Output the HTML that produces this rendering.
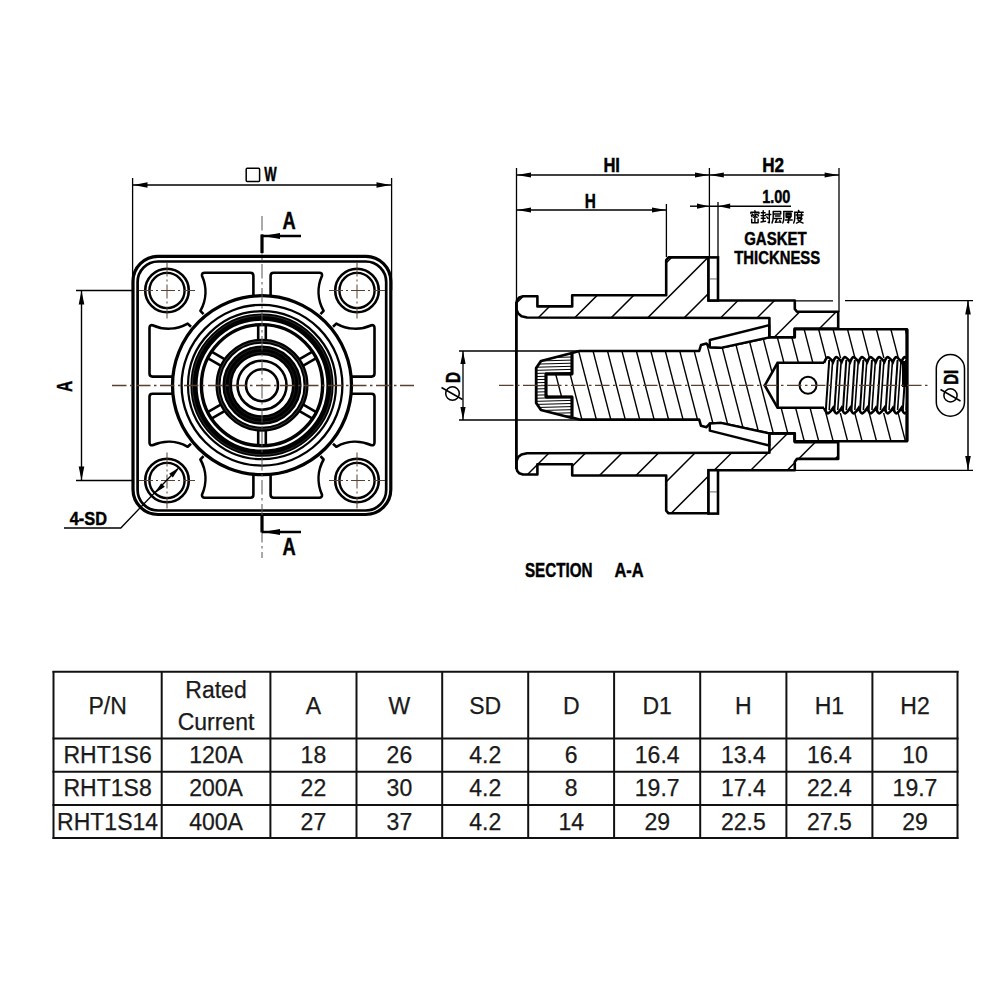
<!DOCTYPE html>
<html><head><meta charset="utf-8"><style>
html,body{margin:0;padding:0;background:#fff;}
svg{display:block;}
</style></head><body>
<svg width="1000" height="1000" viewBox="0 0 1000 1000">
<rect width="1000" height="1000" fill="#fff"/>
<defs><clipPath id="hous"><path d="M516.40,303.00 L517.20,299.80 L519.30,297.40 L523.00,296.20 L537.40,296.20 L537.40,306.40 L572.20,306.40 L572.20,295.20 L666.20,295.20 L666.20,260.00 L668.50,257.40 L708.50,257.40 L708.50,300.50 L794.80,300.50 L794.80,309.00 L797.00,311.80 L838.20,311.80 L838.20,328.60 L794.80,328.60 L794.80,337.30 L769.40,337.30 L769.40,318.00 L527.00,317.50 L521.50,316.20 L518.20,313.60 L516.40,309.50 Z M516.40,467.70 L517.20,470.90 L519.30,473.30 L523.00,474.50 L537.40,474.50 L537.40,464.30 L572.20,464.30 L572.20,475.50 L666.20,475.50 L666.20,510.70 L668.50,513.30 L708.50,513.30 L708.50,470.20 L794.80,470.20 L794.80,461.70 L797.00,458.90 L838.20,458.90 L838.20,442.10 L794.80,442.10 L794.80,433.40 L769.40,433.40 L769.40,452.70 L527.00,453.20 L521.50,454.50 L518.20,457.10 L516.40,461.20 Z"/></clipPath><clipPath id="pinc"><path d="M579.40,351.00 L699.20,351.00 L701.00,345.00 L706.50,343.60 L709.80,347.20 L720.80,347.80 L769.20,337.30 L794.50,337.30 L794.50,329.30 L907.00,329.30 L907.00,441.30 L794.50,441.30 L794.50,433.50 L769.20,433.50 L720.80,423.00 L709.80,423.60 L706.50,427.20 L701.00,425.80 L699.20,419.60 L579.40,419.60 L572.00,417.60 L572.00,397.00 L546.00,397.00 L546.00,374.00 L572.00,374.00 L572.00,353.00 Z"/></clipPath><clipPath id="capc"><path d="M572.00,353.00 L541.00,361.00 L536.20,368.00 L536.20,403.00 L541.00,410.00 L572.00,418.00 L572.00,397.00 L546.00,397.00 L546.00,374.00 L572.00,374.00 Z"/></clipPath><clipPath id="thr"><rect x="820" y="350" width="86" height="70"/></clipPath></defs>
<line x1="132.60" y1="178.00" x2="132.60" y2="300.00" stroke="#000" stroke-width="1.3" />
<line x1="391.60" y1="178.00" x2="391.60" y2="290.00" stroke="#000" stroke-width="1.3" />
<line x1="133.00" y1="185.00" x2="391.00" y2="185.00" stroke="#000" stroke-width="1.5" />
<path d="M133.50,185.00 L147.50,182.20 L147.50,187.80 Z" fill="#000"/>
<path d="M390.50,185.00 L376.50,187.80 L376.50,182.20 Z" fill="#000"/>
<rect x="246.2" y="168.2" width="13.4" height="13.2" rx="1" fill="none" stroke="#000" stroke-width="1.5"/>
<text x="264.20" y="181.20" font-family="Liberation Sans" font-size="19.55" font-weight="bold" fill="#000" stroke="#000" stroke-width="0.45" textLength="12.40" lengthAdjust="spacingAndGlyphs">W</text>
<line x1="76.00" y1="290.50" x2="133.00" y2="290.50" stroke="#000" stroke-width="1.4" />
<line x1="76.00" y1="480.50" x2="133.00" y2="480.50" stroke="#000" stroke-width="1.4" />
<line x1="81.50" y1="290.50" x2="81.50" y2="480.50" stroke="#000" stroke-width="1.4" />
<path d="M81.50,290.50 L84.30,304.50 L78.70,304.50 Z" fill="#000"/>
<path d="M81.50,480.50 L78.70,466.50 L84.30,466.50 Z" fill="#000"/>
<text x="71.90" y="391.90" transform="rotate(-90 71.90 391.90)" font-family="Liberation Sans" font-size="21.79" font-weight="bold" fill="#000" stroke="#000" stroke-width="0.45" textLength="11.10" lengthAdjust="spacingAndGlyphs">A</text>
<rect x="133" y="256.3" width="257.8" height="258.2" rx="25" fill="none" stroke="#000" stroke-width="3.2"/>
<rect x="137.6" y="261.5" width="248.6" height="249" rx="20.5" fill="none" stroke="#000" stroke-width="2.7"/>
<path d="M270.60,296.11  L270.60,275.70  Q270.60,272.70 273.60,272.70  L319.31,272.70  Q322.31,272.70 322.01,275.70  A39.3,39.3 0 0 0 323.59,310.90  L320.49,314.20" fill="none" stroke="#000" stroke-width="2.6" stroke-linejoin="round"/>
<path d="M253.40,296.11  L253.40,275.70  Q253.40,272.70 250.40,272.70  L204.69,272.70  Q201.69,272.70 201.99,275.70  A39.3,39.3 0 0 1 200.41,310.90  L203.51,314.20" fill="none" stroke="#000" stroke-width="2.6" stroke-linejoin="round"/>
<path d="M270.60,474.29  L270.60,494.70  Q270.60,497.70 273.60,497.70  L319.31,497.70  Q322.31,497.70 322.01,494.70  A39.3,39.3 0 0 1 323.59,459.50  L320.49,456.20" fill="none" stroke="#000" stroke-width="2.6" stroke-linejoin="round"/>
<path d="M253.40,474.29  L253.40,494.70  Q253.40,497.70 250.40,497.70  L204.69,497.70  Q201.69,497.70 201.99,494.70  A39.3,39.3 0 0 0 200.41,459.50  L203.51,456.20" fill="none" stroke="#000" stroke-width="2.6" stroke-linejoin="round"/>
<path d="M172.91,393.80  L152.50,393.80  Q149.50,393.80 149.50,396.80  L149.50,442.51  Q149.50,445.51 152.50,445.21  A39.3,39.3 0 0 1 187.70,446.79  L191.00,443.69" fill="none" stroke="#000" stroke-width="2.6" stroke-linejoin="round"/>
<path d="M351.09,393.80  L371.50,393.80  Q374.50,393.80 374.50,396.80  L374.50,442.51  Q374.50,445.51 371.50,445.21  A39.3,39.3 0 0 0 336.30,446.79  L333.00,443.69" fill="none" stroke="#000" stroke-width="2.6" stroke-linejoin="round"/>
<path d="M172.91,376.60  L152.50,376.60  Q149.50,376.60 149.50,373.60  L149.50,327.89  Q149.50,324.89 152.50,325.19  A39.3,39.3 0 0 0 187.70,323.61  L191.00,326.71" fill="none" stroke="#000" stroke-width="2.6" stroke-linejoin="round"/>
<path d="M351.09,376.60  L371.50,376.60  Q374.50,376.60 374.50,373.60  L374.50,327.89  Q374.50,324.89 371.50,325.19  A39.3,39.3 0 0 1 336.30,323.61  L333.00,326.71" fill="none" stroke="#000" stroke-width="2.6" stroke-linejoin="round"/>
<circle cx="167.00" cy="290.50" r="21.80" stroke="#000" stroke-width="2.6" fill="#fff"/>
<circle cx="167.00" cy="290.50" r="17.60" stroke="#000" stroke-width="2.4" fill="none"/>
<circle cx="357.00" cy="290.50" r="21.80" stroke="#000" stroke-width="2.6" fill="#fff"/>
<circle cx="357.00" cy="290.50" r="17.60" stroke="#000" stroke-width="2.4" fill="none"/>
<circle cx="167.00" cy="480.50" r="21.80" stroke="#000" stroke-width="2.6" fill="#fff"/>
<circle cx="167.00" cy="480.50" r="17.60" stroke="#000" stroke-width="2.4" fill="none"/>
<circle cx="357.00" cy="480.50" r="21.80" stroke="#000" stroke-width="2.6" fill="#fff"/>
<circle cx="357.00" cy="480.50" r="17.60" stroke="#000" stroke-width="2.4" fill="none"/>
<circle cx="262.0" cy="385.2" r="89.5" fill="#fff" stroke="#000" stroke-width="3.3"/>
<circle cx="262.00" cy="385.20" r="80.40" stroke="#000" stroke-width="2.3" fill="none"/>
<circle cx="262.00" cy="385.20" r="74.00" stroke="#000" stroke-width="2.2" fill="none"/>
<circle cx="262.0" cy="385.2" r="68" fill="none" stroke="#000" stroke-width="7.2"/>
<circle cx="262.0" cy="385.2" r="69.6" fill="none" stroke="#555" stroke-width="0.5"/>
<circle cx="262.00" cy="385.20" r="60.60" stroke="#000" stroke-width="3.4" fill="none"/>
<line x1="299.07" y1="359.41" x2="312.49" y2="351.66" stroke="#000" stroke-width="2.6" />
<line x1="302.87" y1="365.99" x2="316.29" y2="358.24" stroke="#000" stroke-width="2.6" />
<line x1="258.20" y1="340.20" x2="258.20" y2="324.70" stroke="#000" stroke-width="2.6" />
<line x1="265.80" y1="340.20" x2="265.80" y2="324.70" stroke="#000" stroke-width="2.6" />
<line x1="221.13" y1="365.99" x2="207.71" y2="358.24" stroke="#000" stroke-width="2.6" />
<line x1="224.93" y1="359.41" x2="211.51" y2="351.66" stroke="#000" stroke-width="2.6" />
<line x1="224.93" y1="410.99" x2="211.51" y2="418.74" stroke="#000" stroke-width="2.6" />
<line x1="221.13" y1="404.41" x2="207.71" y2="412.16" stroke="#000" stroke-width="2.6" />
<line x1="265.80" y1="430.20" x2="265.80" y2="445.70" stroke="#000" stroke-width="2.6" />
<line x1="258.20" y1="430.20" x2="258.20" y2="445.70" stroke="#000" stroke-width="2.6" />
<line x1="302.87" y1="404.41" x2="316.29" y2="412.16" stroke="#000" stroke-width="2.6" />
<line x1="299.07" y1="410.99" x2="312.49" y2="418.74" stroke="#000" stroke-width="2.6" />
<circle cx="262.00" cy="385.20" r="44.00" stroke="#000" stroke-width="5" fill="none"/>
<circle cx="262.0" cy="385.2" r="44" fill="none" stroke="#555" stroke-width="0.7"/>
<circle cx="262.0" cy="385.2" r="34.8" fill="none" stroke="#000" stroke-width="9.6"/>
<circle cx="262.0" cy="385.2" r="36.8" fill="none" stroke="#333" stroke-width="0.6"/>
<circle cx="262.0" cy="385.2" r="33" fill="none" stroke="#2a2a2a" stroke-width="0.6"/>
<circle cx="262.00" cy="385.20" r="24.50" stroke="#000" stroke-width="2.6" fill="none"/>
<circle cx="262.00" cy="385.20" r="16.00" stroke="#000" stroke-width="2.6" fill="none"/>
<line x1="112" y1="385.5" x2="414" y2="385.5" stroke="#5a4030" stroke-width="1.3" stroke-dasharray="14.5,3.5,2.5,3.5"/>
<line x1="262.0" y1="216" x2="262.0" y2="558" stroke="#555" stroke-width="1.0" stroke-dasharray="14.5,3.5,2.5,3.5"/>
<line x1="139" y1="290.5" x2="195" y2="290.5" stroke="#5a4030" stroke-width="1.0" stroke-dasharray="14,3,2,3"/>
<line x1="167" y1="262.5" x2="167" y2="318.5" stroke="#5a4030" stroke-width="1.0" stroke-dasharray="14,3,2,3"/>
<line x1="329" y1="290.5" x2="385" y2="290.5" stroke="#5a4030" stroke-width="1.0" stroke-dasharray="14,3,2,3"/>
<line x1="357" y1="262.5" x2="357" y2="318.5" stroke="#5a4030" stroke-width="1.0" stroke-dasharray="14,3,2,3"/>
<line x1="139" y1="480.5" x2="195" y2="480.5" stroke="#5a4030" stroke-width="1.0" stroke-dasharray="14,3,2,3"/>
<line x1="167" y1="452.5" x2="167" y2="508.5" stroke="#5a4030" stroke-width="1.0" stroke-dasharray="14,3,2,3"/>
<line x1="329" y1="480.5" x2="385" y2="480.5" stroke="#5a4030" stroke-width="1.0" stroke-dasharray="14,3,2,3"/>
<line x1="357" y1="452.5" x2="357" y2="508.5" stroke="#5a4030" stroke-width="1.0" stroke-dasharray="14,3,2,3"/>
<line x1="262.00" y1="234.50" x2="262.00" y2="253.00" stroke="#000" stroke-width="3.2" />
<line x1="262.00" y1="236.00" x2="301.00" y2="236.00" stroke="#000" stroke-width="2.4" />
<path d="M263.00,236.00 L280.00,233.00 L280.00,239.00 Z" fill="#000"/>
<text x="282.40" y="229.00" font-family="Liberation Sans" font-size="23.46" font-weight="bold" fill="#000" stroke="#000" stroke-width="0.45" textLength="13.20" lengthAdjust="spacingAndGlyphs">A</text>
<line x1="262.00" y1="515.00" x2="262.00" y2="532.50" stroke="#000" stroke-width="3.2" />
<line x1="262.00" y1="532.00" x2="301.00" y2="532.00" stroke="#000" stroke-width="2.4" />
<path d="M263.00,532.00 L280.00,529.00 L280.00,535.00 Z" fill="#000"/>
<text x="282.40" y="555.00" font-family="Liberation Sans" font-size="23.46" font-weight="bold" fill="#000" stroke="#000" stroke-width="0.45" textLength="13.20" lengthAdjust="spacingAndGlyphs">A</text>
<line x1="177.80" y1="468.80" x2="139.20" y2="508.80" stroke="#000" stroke-width="1.3" />
<polyline points="139.2,508.8 120.8,528 64,528" fill="none" stroke="#000" stroke-width="1.3"/>
<path d="M179.50,467.20 L172.85,477.52 L169.18,473.85 Z" fill="#000"/>
<path d="M154.50,493.50 L161.15,483.18 L164.82,486.85 Z" fill="#000"/>
<text x="69.80" y="524.80" font-family="Liberation Sans" font-size="17.88" font-weight="bold" fill="#000" stroke="#000" stroke-width="0.45" textLength="37.20" lengthAdjust="spacingAndGlyphs">4-SD</text>
<g clip-path="url(#hous)"><line x1="543.0" y1="240" x2="253.0" y2="530" stroke="#000" stroke-width="1.5"/><line x1="579.5" y1="240" x2="289.5" y2="530" stroke="#000" stroke-width="1.5"/><line x1="616.0" y1="240" x2="326.0" y2="530" stroke="#000" stroke-width="1.5"/><line x1="652.5" y1="240" x2="362.5" y2="530" stroke="#000" stroke-width="1.5"/><line x1="689.0" y1="240" x2="399.0" y2="530" stroke="#000" stroke-width="1.5"/><line x1="725.5" y1="240" x2="435.5" y2="530" stroke="#000" stroke-width="1.5"/><line x1="762.0" y1="240" x2="472.0" y2="530" stroke="#000" stroke-width="1.5"/><line x1="798.5" y1="240" x2="508.5" y2="530" stroke="#000" stroke-width="1.5"/><line x1="835.0" y1="240" x2="545.0" y2="530" stroke="#000" stroke-width="1.5"/><line x1="871.5" y1="240" x2="581.5" y2="530" stroke="#000" stroke-width="1.5"/><line x1="908.0" y1="240" x2="618.0" y2="530" stroke="#000" stroke-width="1.5"/><line x1="944.5" y1="240" x2="654.5" y2="530" stroke="#000" stroke-width="1.5"/><line x1="981.0" y1="240" x2="691.0" y2="530" stroke="#000" stroke-width="1.5"/><line x1="1017.5" y1="240" x2="727.5" y2="530" stroke="#000" stroke-width="1.5"/><line x1="1054.0" y1="240" x2="764.0" y2="530" stroke="#000" stroke-width="1.5"/><line x1="1090.5" y1="240" x2="800.5" y2="530" stroke="#000" stroke-width="1.5"/><line x1="1127.0" y1="240" x2="837.0" y2="530" stroke="#000" stroke-width="1.5"/><line x1="1163.5" y1="240" x2="873.5" y2="530" stroke="#000" stroke-width="1.5"/><line x1="1200.0" y1="240" x2="910.0" y2="530" stroke="#000" stroke-width="1.5"/><line x1="1236.5" y1="240" x2="946.5" y2="530" stroke="#000" stroke-width="1.5"/><line x1="1273.0" y1="240" x2="983.0" y2="530" stroke="#000" stroke-width="1.5"/><line x1="1309.5" y1="240" x2="1019.5" y2="530" stroke="#000" stroke-width="1.5"/></g>
<path d="M516.40,303.00 L517.20,299.80 L519.30,297.40 L523.00,296.20 L537.40,296.20 L537.40,306.40 L572.20,306.40 L572.20,295.20 L666.20,295.20 L666.20,260.00 L668.50,257.40 L708.50,257.40 L708.50,300.50 L794.80,300.50 L794.80,309.00 L797.00,311.80 L838.20,311.80 L838.20,328.60 L794.80,328.60 L794.80,337.30 L769.40,337.30 L769.40,318.00 L527.00,317.50 L521.50,316.20 L518.20,313.60 L516.40,309.50 Z" fill="none" stroke="#000" stroke-width="2.6" stroke-linejoin="round"/>
<path d="M516.40,467.70 L517.20,470.90 L519.30,473.30 L523.00,474.50 L537.40,474.50 L537.40,464.30 L572.20,464.30 L572.20,475.50 L666.20,475.50 L666.20,510.70 L668.50,513.30 L708.50,513.30 L708.50,470.20 L794.80,470.20 L794.80,461.70 L797.00,458.90 L838.20,458.90 L838.20,442.10 L794.80,442.10 L794.80,433.40 L769.40,433.40 L769.40,452.70 L527.00,453.20 L521.50,454.50 L518.20,457.10 L516.40,461.20 Z" fill="none" stroke="#000" stroke-width="2.6" stroke-linejoin="round"/>
<line x1="516.40" y1="302.00" x2="516.40" y2="469.00" stroke="#000" stroke-width="2.8" />
<rect x="708.5" y="257.4" width="9.5" height="43.10000000000002" fill="#fff" stroke="#000" stroke-width="2.6"/>
<line x1="710.00" y1="278.95" x2="717.00" y2="278.95" stroke="#666" stroke-width="1.0" />
<rect x="708.5" y="470.2" width="9.5" height="43.400000000000034" fill="#fff" stroke="#000" stroke-width="2.6"/>
<line x1="710.00" y1="491.90" x2="717.00" y2="491.90" stroke="#666" stroke-width="1.0" />
<g clip-path="url(#pinc)"><line x1="527.22" y1="320" x2="560.89" y2="450" stroke="#000" stroke-width="1.4"/><line x1="541.67" y1="320" x2="575.34" y2="450" stroke="#000" stroke-width="1.4"/><line x1="556.12" y1="320" x2="589.79" y2="450" stroke="#000" stroke-width="1.4"/><line x1="570.57" y1="320" x2="604.24" y2="450" stroke="#000" stroke-width="1.4"/><line x1="585.02" y1="320" x2="618.69" y2="450" stroke="#000" stroke-width="1.4"/><line x1="599.47" y1="320" x2="633.14" y2="450" stroke="#000" stroke-width="1.4"/><line x1="613.92" y1="320" x2="647.59" y2="450" stroke="#000" stroke-width="1.4"/><line x1="628.37" y1="320" x2="662.04" y2="450" stroke="#000" stroke-width="1.4"/><line x1="642.82" y1="320" x2="676.49" y2="450" stroke="#000" stroke-width="1.4"/><line x1="657.27" y1="320" x2="690.94" y2="450" stroke="#000" stroke-width="1.4"/><line x1="671.72" y1="320" x2="705.39" y2="450" stroke="#000" stroke-width="1.4"/><line x1="686.17" y1="320" x2="719.84" y2="450" stroke="#000" stroke-width="1.4"/><line x1="700.62" y1="320" x2="734.29" y2="450" stroke="#000" stroke-width="1.4"/><line x1="715.07" y1="320" x2="748.74" y2="450" stroke="#000" stroke-width="1.4"/><line x1="729.52" y1="320" x2="763.19" y2="450" stroke="#000" stroke-width="1.4"/><line x1="743.97" y1="320" x2="777.64" y2="450" stroke="#000" stroke-width="1.4"/><line x1="758.42" y1="320" x2="792.09" y2="450" stroke="#000" stroke-width="1.4"/><line x1="772.87" y1="320" x2="806.54" y2="450" stroke="#000" stroke-width="1.4"/><line x1="787.32" y1="320" x2="820.99" y2="450" stroke="#000" stroke-width="1.4"/><line x1="801.77" y1="320" x2="835.44" y2="450" stroke="#000" stroke-width="1.4"/><line x1="816.22" y1="320" x2="849.89" y2="450" stroke="#000" stroke-width="1.4"/><line x1="830.67" y1="320" x2="864.34" y2="450" stroke="#000" stroke-width="1.4"/><line x1="845.12" y1="320" x2="878.79" y2="450" stroke="#000" stroke-width="1.4"/><line x1="859.57" y1="320" x2="893.24" y2="450" stroke="#000" stroke-width="1.4"/><line x1="874.02" y1="320" x2="907.69" y2="450" stroke="#000" stroke-width="1.4"/><line x1="888.47" y1="320" x2="922.14" y2="450" stroke="#000" stroke-width="1.4"/><line x1="902.92" y1="320" x2="936.59" y2="450" stroke="#000" stroke-width="1.4"/><line x1="917.37" y1="320" x2="951.04" y2="450" stroke="#000" stroke-width="1.4"/><line x1="931.82" y1="320" x2="965.49" y2="450" stroke="#000" stroke-width="1.4"/><line x1="946.27" y1="320" x2="979.94" y2="450" stroke="#000" stroke-width="1.4"/><line x1="960.72" y1="320" x2="994.39" y2="450" stroke="#000" stroke-width="1.4"/><line x1="975.17" y1="320" x2="1008.84" y2="450" stroke="#000" stroke-width="1.4"/><line x1="989.62" y1="320" x2="1023.29" y2="450" stroke="#000" stroke-width="1.4"/></g>
<path d="M579.40,351.00 L699.20,351.00 L701.00,345.00 L706.50,343.60 L709.80,347.20 L720.80,347.80 L769.20,337.30 L794.50,337.30 L794.50,329.30 L907.00,329.30 L907.00,441.30 L794.50,441.30 L794.50,433.50 L769.20,433.50 L720.80,423.00 L709.80,423.60 L706.50,427.20 L701.00,425.80 L699.20,419.60 L579.40,419.60 L572.00,417.60 L572.00,397.00 L546.00,397.00 L546.00,374.00 L572.00,374.00 L572.00,353.00 Z" fill="none" stroke="#000" stroke-width="2.6" stroke-linejoin="round"/>
<path d="M709.80,340.00 L769.20,325.20 L769.20,337.30 L720.80,347.80 L709.80,347.20 Z" fill="#fff" stroke="#000" stroke-width="2.4" stroke-linejoin="round"/>
<path d="M709.80,430.70 L769.20,445.50 L769.20,433.40 L720.80,422.90 L709.80,423.50 Z" fill="#fff" stroke="#000" stroke-width="2.4" stroke-linejoin="round"/>
<g clip-path="url(#capc)"><line x1="530" y1="355.00" x2="575" y2="353.80" stroke="#000" stroke-width="1.0"/><line x1="530" y1="358.10" x2="575" y2="356.90" stroke="#000" stroke-width="1.0"/><line x1="530" y1="361.20" x2="575" y2="360.00" stroke="#000" stroke-width="1.0"/><line x1="530" y1="364.30" x2="575" y2="363.10" stroke="#000" stroke-width="1.0"/><line x1="530" y1="367.40" x2="575" y2="366.20" stroke="#000" stroke-width="1.0"/><line x1="530" y1="370.50" x2="575" y2="369.30" stroke="#000" stroke-width="1.0"/><line x1="530" y1="373.60" x2="575" y2="372.40" stroke="#000" stroke-width="1.0"/><line x1="530" y1="376.70" x2="575" y2="375.50" stroke="#000" stroke-width="1.0"/><line x1="530" y1="379.80" x2="575" y2="378.60" stroke="#000" stroke-width="1.0"/><line x1="530" y1="382.90" x2="575" y2="381.70" stroke="#000" stroke-width="1.0"/><line x1="530" y1="386.00" x2="575" y2="384.80" stroke="#000" stroke-width="1.0"/><line x1="530" y1="389.10" x2="575" y2="387.90" stroke="#000" stroke-width="1.0"/><line x1="530" y1="392.20" x2="575" y2="391.00" stroke="#000" stroke-width="1.0"/><line x1="530" y1="395.30" x2="575" y2="394.10" stroke="#000" stroke-width="1.0"/><line x1="530" y1="398.40" x2="575" y2="397.20" stroke="#000" stroke-width="1.0"/><line x1="530" y1="401.50" x2="575" y2="400.30" stroke="#000" stroke-width="1.0"/><line x1="530" y1="404.60" x2="575" y2="403.40" stroke="#000" stroke-width="1.0"/><line x1="530" y1="407.70" x2="575" y2="406.50" stroke="#000" stroke-width="1.0"/><line x1="530" y1="410.80" x2="575" y2="409.60" stroke="#000" stroke-width="1.0"/><line x1="530" y1="413.90" x2="575" y2="412.70" stroke="#000" stroke-width="1.0"/><line x1="530" y1="417.00" x2="575" y2="415.80" stroke="#000" stroke-width="1.0"/></g>
<path d="M572.00,353.00 L541.00,361.00 L536.20,368.00 L536.20,403.00 L541.00,410.00 L572.00,418.00 L572.00,397.00 L546.00,397.00 L546.00,374.00 L572.00,374.00 Z" fill="none" stroke="#000" stroke-width="2.8" stroke-linejoin="round"/>
<path d="M825.6,362.8 L777.6,362.8 L764.8,385.4 L777.6,407.8 L825.6,407.8" fill="#fff" stroke="#000" stroke-width="2.6"/>
<line x1="777.60" y1="362.80" x2="777.60" y2="407.80" stroke="#000" stroke-width="2.6" />
<circle cx="808.00" cy="385.30" r="8.50" stroke="#000" stroke-width="2.0" fill="none"/>
<rect x="824" y="358" width="83" height="55" fill="#fff"/>
<g clip-path="url(#thr)">
<path d="M824,363 Q826.64,356.00 828.77,357.50 Q830.91,359 833.05,362.00 Q835.19,356.00 837.32,357.50 Q839.46,359 841.60,362.00 Q843.74,356.00 845.87,357.50 Q848.01,359 850.15,362.00 Q852.29,356.00 854.42,357.50 Q856.56,359 858.70,362.00 Q860.84,356.00 862.97,357.50 Q865.11,359 867.25,362.00 Q869.39,356.00 871.52,357.50 Q873.66,359 875.80,362.00 Q877.94,356.00 880.07,357.50 Q882.21,359 884.35,362.00 Q886.49,356.00 888.62,357.50 Q890.76,359 892.90,362.00 Q895.04,356.00 897.17,357.50 Q899.31,359 901.45,362.00 Q903.59,356.00 905.72,357.50 Q907.86,359 910.00,362.00" fill="none" stroke="#000" stroke-width="2.6"/>
<path d="M824,408 Q826.64,414.50 828.77,413.00 Q830.91,411.5 833.05,408.00 Q835.19,414.50 837.32,413.00 Q839.46,411.5 841.60,408.00 Q843.74,414.50 845.87,413.00 Q848.01,411.5 850.15,408.00 Q852.29,414.50 854.42,413.00 Q856.56,411.5 858.70,408.00 Q860.84,414.50 862.97,413.00 Q865.11,411.5 867.25,408.00 Q869.39,414.50 871.52,413.00 Q873.66,411.5 875.80,408.00 Q877.94,414.50 880.07,413.00 Q882.21,411.5 884.35,408.00 Q886.49,414.50 888.62,413.00 Q890.76,411.5 892.90,408.00 Q895.04,414.50 897.17,413.00 Q899.31,411.5 901.45,408.00 Q903.59,414.50 905.72,413.00 Q907.86,411.5 910.00,408.00" fill="none" stroke="#000" stroke-width="2.6"/>
<line x1="829.20" y1="360.00" x2="825.78" y2="411.00" stroke="#000" stroke-width="2.0" />
<line x1="832.62" y1="361.00" x2="829.20" y2="410.00" stroke="#000" stroke-width="1.6" />
<line x1="837.75" y1="360.00" x2="834.33" y2="411.00" stroke="#000" stroke-width="2.0" />
<line x1="841.17" y1="361.00" x2="837.75" y2="410.00" stroke="#000" stroke-width="1.6" />
<line x1="846.30" y1="360.00" x2="842.88" y2="411.00" stroke="#000" stroke-width="2.0" />
<line x1="849.72" y1="361.00" x2="846.30" y2="410.00" stroke="#000" stroke-width="1.6" />
<line x1="854.85" y1="360.00" x2="851.43" y2="411.00" stroke="#000" stroke-width="2.0" />
<line x1="858.27" y1="361.00" x2="854.85" y2="410.00" stroke="#000" stroke-width="1.6" />
<line x1="863.40" y1="360.00" x2="859.98" y2="411.00" stroke="#000" stroke-width="2.0" />
<line x1="866.82" y1="361.00" x2="863.40" y2="410.00" stroke="#000" stroke-width="1.6" />
<line x1="871.95" y1="360.00" x2="868.53" y2="411.00" stroke="#000" stroke-width="2.0" />
<line x1="875.37" y1="361.00" x2="871.95" y2="410.00" stroke="#000" stroke-width="1.6" />
<line x1="880.50" y1="360.00" x2="877.08" y2="411.00" stroke="#000" stroke-width="2.0" />
<line x1="883.92" y1="361.00" x2="880.50" y2="410.00" stroke="#000" stroke-width="1.6" />
<line x1="889.05" y1="360.00" x2="885.63" y2="411.00" stroke="#000" stroke-width="2.0" />
<line x1="892.47" y1="361.00" x2="889.05" y2="410.00" stroke="#000" stroke-width="1.6" />
<line x1="897.60" y1="360.00" x2="894.18" y2="411.00" stroke="#000" stroke-width="2.0" />
<line x1="901.02" y1="361.00" x2="897.60" y2="410.00" stroke="#000" stroke-width="1.6" />
<line x1="906.15" y1="360.00" x2="902.73" y2="411.00" stroke="#000" stroke-width="2.0" />
<line x1="909.57" y1="361.00" x2="906.15" y2="410.00" stroke="#000" stroke-width="1.6" />
</g>
<line x1="907.00" y1="329.30" x2="907.00" y2="441.30" stroke="#000" stroke-width="3.0" />
<rect x="902" y="361" width="4.5" height="26" fill="#000"/>
<line x1="459.00" y1="351.00" x2="516.00" y2="351.00" stroke="#000" stroke-width="1.4" />
<line x1="459.00" y1="420.00" x2="516.00" y2="420.00" stroke="#000" stroke-width="1.4" />
<line x1="463.00" y1="351.00" x2="463.00" y2="420.00" stroke="#000" stroke-width="1.3" />
<path d="M463.00,351.00 L465.60,364.00 L460.40,364.00 Z" fill="#000"/>
<path d="M463.00,420.00 L460.40,407.00 L465.60,407.00 Z" fill="#000"/>
<g transform="rotate(-90 452.5 386)"><circle cx="445" cy="386" r="6.8" fill="none" stroke="#000" stroke-width="1.5"/><line x1="439" y1="396" x2="451" y2="375" stroke="#000" stroke-width="1.5"/></g>
<text x="459.70" y="382.90" transform="rotate(-90 459.70 382.90)" font-family="Liberation Sans" font-size="19.97" font-weight="bold" fill="#000" stroke="#000" stroke-width="0.45" textLength="11.10" lengthAdjust="spacingAndGlyphs">D</text>
<line x1="516.40" y1="351.00" x2="579.40" y2="351.00" stroke="#000" stroke-width="1.6" />
<line x1="516.40" y1="420.00" x2="579.40" y2="420.00" stroke="#000" stroke-width="1.6" />
<line x1="845.00" y1="300.60" x2="973.00" y2="300.60" stroke="#000" stroke-width="1.4" />
<line x1="795.00" y1="300.80" x2="833.00" y2="300.80" stroke="#000" stroke-width="1.3" />
<line x1="795.00" y1="470.40" x2="973.00" y2="470.40" stroke="#000" stroke-width="1.4" />
<line x1="968.00" y1="300.60" x2="968.00" y2="470.00" stroke="#000" stroke-width="1.5" />
<path d="M968.00,300.60 L970.80,314.60 L965.20,314.60 Z" fill="#000"/>
<path d="M968.00,470.00 L965.20,456.00 L970.80,456.00 Z" fill="#000"/>
<rect x="936.3" y="354.6" width="28.2" height="61.6" rx="14.1" fill="#fff" stroke="#000" stroke-width="1.5"/>
<circle cx="950.5" cy="395.4" r="6.6" fill="none" stroke="#000" stroke-width="1.5"/>
<line x1="940.50" y1="389.50" x2="960.50" y2="401.00" stroke="#000" stroke-width="1.5" />
<text x="958.00" y="384.80" transform="rotate(-90 958.00 384.80)" font-family="Liberation Sans" font-size="20.95" font-weight="bold" fill="#000" stroke="#000" stroke-width="0.45" textLength="14.90" lengthAdjust="spacingAndGlyphs">DI</text>
<line x1="516.50" y1="168.00" x2="516.50" y2="302.00" stroke="#000" stroke-width="1.3" />
<line x1="709.40" y1="168.00" x2="709.40" y2="257.00" stroke="#000" stroke-width="1.3" />
<line x1="666.40" y1="204.00" x2="666.40" y2="257.00" stroke="#000" stroke-width="1.3" />
<line x1="839.00" y1="168.00" x2="839.00" y2="312.00" stroke="#000" stroke-width="1.3" />
<line x1="718.00" y1="202.00" x2="718.00" y2="257.00" stroke="#000" stroke-width="1.3" />
<line x1="516.50" y1="175.00" x2="709.40" y2="175.00" stroke="#000" stroke-width="1.4" />
<path d="M517.00,175.00 L531.00,172.40 L531.00,177.60 Z" fill="#000"/>
<path d="M709.00,175.00 L695.00,177.60 L695.00,172.40 Z" fill="#000"/>
<line x1="709.40" y1="175.00" x2="839.00" y2="175.00" stroke="#000" stroke-width="1.4" />
<path d="M709.80,175.00 L723.80,172.40 L723.80,177.60 Z" fill="#000"/>
<path d="M838.60,175.00 L824.60,177.60 L824.60,172.40 Z" fill="#000"/>
<line x1="516.50" y1="210.00" x2="666.40" y2="210.00" stroke="#000" stroke-width="1.4" />
<path d="M517.00,210.00 L531.00,207.40 L531.00,212.60 Z" fill="#000"/>
<path d="M666.00,210.00 L652.00,212.60 L652.00,207.40 Z" fill="#000"/>
<line x1="690.00" y1="206.20" x2="709.00" y2="206.20" stroke="#000" stroke-width="1.4" />
<path d="M709.00,206.20 L697.00,208.80 L697.00,203.60 Z" fill="#000"/>
<line x1="709.00" y1="206.20" x2="791.00" y2="206.20" stroke="#000" stroke-width="1.4" />
<path d="M718.20,206.20 L730.20,203.60 L730.20,208.80 Z" fill="#000"/>
<text x="603.40" y="172.00" font-family="Liberation Sans" font-size="19.97" font-weight="bold" fill="#000" stroke="#000" stroke-width="0.45" textLength="16.60" lengthAdjust="spacingAndGlyphs">HI</text>
<text x="584.70" y="207.60" font-family="Liberation Sans" font-size="20.53" font-weight="bold" fill="#000" stroke="#000" stroke-width="0.45" textLength="11.10" lengthAdjust="spacingAndGlyphs">H</text>
<text x="762.20" y="172.00" font-family="Liberation Sans" font-size="19.41" font-weight="bold" fill="#000" stroke="#000" stroke-width="0.45" textLength="21.90" lengthAdjust="spacingAndGlyphs">H2</text>
<text x="762.20" y="202.60" font-family="Liberation Sans" font-size="17.60" font-weight="bold" fill="#000" stroke="#000" stroke-width="0.45" textLength="28.20" lengthAdjust="spacingAndGlyphs">1.00</text>
<text x="744.20" y="244.50" font-family="Liberation Sans" font-size="18.85" font-weight="bold" fill="#000" stroke="#000" stroke-width="0.45" textLength="62.40" lengthAdjust="spacingAndGlyphs">GASKET</text>
<text x="734.30" y="264.30" font-family="Liberation Sans" font-size="17.60" font-weight="bold" fill="#000" stroke="#000" stroke-width="0.45" textLength="85.80" lengthAdjust="spacingAndGlyphs">THICKNESS</text>
<line x1="499" y1="385.35" x2="930" y2="385.35" stroke="#5a4030" stroke-width="1.3" stroke-dasharray="14.5,3.5,2.5,3.5"/>
<text x="524.90" y="577.30" font-family="Liberation Sans" font-size="20.53" font-weight="bold" fill="#000" stroke="#000" stroke-width="0.45" textLength="67.70" lengthAdjust="spacingAndGlyphs">SECTION</text>
<text x="614.50" y="577.30" font-family="Liberation Sans" font-size="20.53" font-weight="bold" fill="#000" stroke="#000" stroke-width="0.45" textLength="29.20" lengthAdjust="spacingAndGlyphs">A-A</text>
<path transform="translate(749.90,210.4)" d="M5,0.3 L5.4,1.3 M1,3.2 L1,1.8 L9,1.8 L9,3.2 M2.6,3.6 L3.4,4.9 M5,3.2 L5.2,6.4 L7.2,6.9 M6.8,3.6 L3.8,6.9 M7.6,3.9 L8.6,5.4 M1.6,4.8 L2.1,6.4 M1.8,8.8 L1.8,12.4 L8.2,12.4 L8.2,8.8 M5,7.8 L5,12.4" fill="none" stroke="#000" stroke-width="1.45" stroke-linecap="round" stroke-linejoin="round"/>
<path transform="translate(760.80,210.4)" d="M0.5,2.4 L4.3,2.4 M2.4,0.4 L2.4,5.2 M0.3,5.2 L4.5,5.2 M0.5,7.9 L4.3,7.9 M2.4,5.9 L2.4,11.4 M0.2,11.6 L4.7,10.9 M5,4 L10,4 M8.5,0.4 L8.5,12.4 L7.4,11.9 M6,6.4 L7,8" fill="none" stroke="#000" stroke-width="1.45" stroke-linecap="round" stroke-linejoin="round"/>
<path transform="translate(771.70,210.4)" d="M1.5,1 L9,1 L9,3.5 L1.5,3.5 M1.5,1 L1.5,7 Q1.3,11 0.3,12.6 M3.6,5.5 L8.5,5.5 M2.8,8 L9.6,8 M5.6,8 L3.6,12 L9,11.5 M8,10 L9.2,12" fill="none" stroke="#000" stroke-width="1.45" stroke-linecap="round" stroke-linejoin="round"/>
<path transform="translate(782.60,210.4)" d="M1,1 L9.7,1 M1.2,1 L1.2,8 Q1,11 0.2,12.6 M3.5,2.8 L8.5,2.8 L8.5,6 L3.5,6 Z M3.5,4.4 L8.5,4.4 M3.5,7.2 L8,7.2 L6,8.5 M6,8.5 L6,12.4 L5,11.9 M2.8,9.5 L9.6,9.5" fill="none" stroke="#000" stroke-width="1.45" stroke-linecap="round" stroke-linejoin="round"/>
<path transform="translate(793.50,210.4)" d="M5,0 L5.5,1 M1,1.8 L9.7,1.8 M1.3,1.8 L1.3,8 Q1,11 0.2,12.6 M2.8,4.5 L9.5,4.5 M4,3 L4,6.8 L8,6.8 L8,3 M3.5,8.2 L8.5,8.2 Q7,11 3,12.7 M4.5,9.5 Q6.5,11.5 9.6,12.7" fill="none" stroke="#000" stroke-width="1.45" stroke-linecap="round" stroke-linejoin="round"/>
<line x1="53.50" y1="671.00" x2="53.50" y2="838.90" stroke="#111" stroke-width="2.0" />
<line x1="161.70" y1="671.00" x2="161.70" y2="838.90" stroke="#111" stroke-width="2.0" />
<line x1="270.40" y1="671.00" x2="270.40" y2="838.90" stroke="#111" stroke-width="2.0" />
<line x1="356.50" y1="671.00" x2="356.50" y2="838.90" stroke="#111" stroke-width="2.0" />
<line x1="442.20" y1="671.00" x2="442.20" y2="838.90" stroke="#111" stroke-width="2.0" />
<line x1="528.20" y1="671.00" x2="528.20" y2="838.90" stroke="#111" stroke-width="2.0" />
<line x1="614.10" y1="671.00" x2="614.10" y2="838.90" stroke="#111" stroke-width="2.0" />
<line x1="700.20" y1="671.00" x2="700.20" y2="838.90" stroke="#111" stroke-width="2.0" />
<line x1="786.40" y1="671.00" x2="786.40" y2="838.90" stroke="#111" stroke-width="2.0" />
<line x1="872.40" y1="671.00" x2="872.40" y2="838.90" stroke="#111" stroke-width="2.0" />
<line x1="957.50" y1="671.00" x2="957.50" y2="838.90" stroke="#111" stroke-width="2.0" />
<line x1="52.50" y1="671.80" x2="958.50" y2="671.80" stroke="#111" stroke-width="2.0" />
<line x1="52.50" y1="738.50" x2="958.50" y2="738.50" stroke="#111" stroke-width="2.0" />
<line x1="52.50" y1="771.80" x2="958.50" y2="771.80" stroke="#111" stroke-width="2.0" />
<line x1="52.50" y1="805.10" x2="958.50" y2="805.10" stroke="#111" stroke-width="2.0" />
<line x1="52.50" y1="838.10" x2="958.50" y2="838.10" stroke="#111" stroke-width="2.0" />
<text x="107.6" y="713.6" font-family="Liberation Sans" font-size="23" text-anchor="middle" fill="#1a1a1a" stroke="#1a1a1a" stroke-width="0.25">P/N</text>
<text x="313.4" y="713.6" font-family="Liberation Sans" font-size="23" text-anchor="middle" fill="#1a1a1a" stroke="#1a1a1a" stroke-width="0.25">A</text>
<text x="399.4" y="713.6" font-family="Liberation Sans" font-size="23" text-anchor="middle" fill="#1a1a1a" stroke="#1a1a1a" stroke-width="0.25">W</text>
<text x="485.2" y="713.6" font-family="Liberation Sans" font-size="23" text-anchor="middle" fill="#1a1a1a" stroke="#1a1a1a" stroke-width="0.25">SD</text>
<text x="571.2" y="713.6" font-family="Liberation Sans" font-size="23" text-anchor="middle" fill="#1a1a1a" stroke="#1a1a1a" stroke-width="0.25">D</text>
<text x="657.2" y="713.6" font-family="Liberation Sans" font-size="23" text-anchor="middle" fill="#1a1a1a" stroke="#1a1a1a" stroke-width="0.25">D1</text>
<text x="743.3" y="713.6" font-family="Liberation Sans" font-size="23" text-anchor="middle" fill="#1a1a1a" stroke="#1a1a1a" stroke-width="0.25">H</text>
<text x="829.4" y="713.6" font-family="Liberation Sans" font-size="23" text-anchor="middle" fill="#1a1a1a" stroke="#1a1a1a" stroke-width="0.25">H1</text>
<text x="915.0" y="713.6" font-family="Liberation Sans" font-size="23" text-anchor="middle" fill="#1a1a1a" stroke="#1a1a1a" stroke-width="0.25">H2</text>
<text x="216.0" y="697.5" font-family="Liberation Sans" font-size="23" text-anchor="middle" fill="#1a1a1a" stroke="#1a1a1a" stroke-width="0.25">Rated</text>
<text x="216.0" y="730.4" font-family="Liberation Sans" font-size="23" text-anchor="middle" fill="#1a1a1a" stroke="#1a1a1a" stroke-width="0.25">Current</text>
<text x="107.6" y="763.4" font-family="Liberation Sans" font-size="23" text-anchor="middle" fill="#1a1a1a" stroke="#1a1a1a" stroke-width="0.25">RHT1S6</text>
<text x="216.0" y="763.4" font-family="Liberation Sans" font-size="23" text-anchor="middle" fill="#1a1a1a" stroke="#1a1a1a" stroke-width="0.25">120A</text>
<text x="313.4" y="763.4" font-family="Liberation Sans" font-size="23" text-anchor="middle" fill="#1a1a1a" stroke="#1a1a1a" stroke-width="0.25">18</text>
<text x="399.4" y="763.4" font-family="Liberation Sans" font-size="23" text-anchor="middle" fill="#1a1a1a" stroke="#1a1a1a" stroke-width="0.25">26</text>
<text x="485.2" y="763.4" font-family="Liberation Sans" font-size="23" text-anchor="middle" fill="#1a1a1a" stroke="#1a1a1a" stroke-width="0.25">4.2</text>
<text x="571.2" y="763.4" font-family="Liberation Sans" font-size="23" text-anchor="middle" fill="#1a1a1a" stroke="#1a1a1a" stroke-width="0.25">6</text>
<text x="657.2" y="763.4" font-family="Liberation Sans" font-size="23" text-anchor="middle" fill="#1a1a1a" stroke="#1a1a1a" stroke-width="0.25">16.4</text>
<text x="743.3" y="763.4" font-family="Liberation Sans" font-size="23" text-anchor="middle" fill="#1a1a1a" stroke="#1a1a1a" stroke-width="0.25">13.4</text>
<text x="829.4" y="763.4" font-family="Liberation Sans" font-size="23" text-anchor="middle" fill="#1a1a1a" stroke="#1a1a1a" stroke-width="0.25">16.4</text>
<text x="915.0" y="763.4" font-family="Liberation Sans" font-size="23" text-anchor="middle" fill="#1a1a1a" stroke="#1a1a1a" stroke-width="0.25">10</text>
<text x="107.6" y="796.4" font-family="Liberation Sans" font-size="23" text-anchor="middle" fill="#1a1a1a" stroke="#1a1a1a" stroke-width="0.25">RHT1S8</text>
<text x="216.0" y="796.4" font-family="Liberation Sans" font-size="23" text-anchor="middle" fill="#1a1a1a" stroke="#1a1a1a" stroke-width="0.25">200A</text>
<text x="313.4" y="796.4" font-family="Liberation Sans" font-size="23" text-anchor="middle" fill="#1a1a1a" stroke="#1a1a1a" stroke-width="0.25">22</text>
<text x="399.4" y="796.4" font-family="Liberation Sans" font-size="23" text-anchor="middle" fill="#1a1a1a" stroke="#1a1a1a" stroke-width="0.25">30</text>
<text x="485.2" y="796.4" font-family="Liberation Sans" font-size="23" text-anchor="middle" fill="#1a1a1a" stroke="#1a1a1a" stroke-width="0.25">4.2</text>
<text x="571.2" y="796.4" font-family="Liberation Sans" font-size="23" text-anchor="middle" fill="#1a1a1a" stroke="#1a1a1a" stroke-width="0.25">8</text>
<text x="657.2" y="796.4" font-family="Liberation Sans" font-size="23" text-anchor="middle" fill="#1a1a1a" stroke="#1a1a1a" stroke-width="0.25">19.7</text>
<text x="743.3" y="796.4" font-family="Liberation Sans" font-size="23" text-anchor="middle" fill="#1a1a1a" stroke="#1a1a1a" stroke-width="0.25">17.4</text>
<text x="829.4" y="796.4" font-family="Liberation Sans" font-size="23" text-anchor="middle" fill="#1a1a1a" stroke="#1a1a1a" stroke-width="0.25">22.4</text>
<text x="915.0" y="796.4" font-family="Liberation Sans" font-size="23" text-anchor="middle" fill="#1a1a1a" stroke="#1a1a1a" stroke-width="0.25">19.7</text>
<text x="107.6" y="829.6" font-family="Liberation Sans" font-size="23" text-anchor="middle" fill="#1a1a1a" stroke="#1a1a1a" stroke-width="0.25">RHT1S14</text>
<text x="216.0" y="829.6" font-family="Liberation Sans" font-size="23" text-anchor="middle" fill="#1a1a1a" stroke="#1a1a1a" stroke-width="0.25">400A</text>
<text x="313.4" y="829.6" font-family="Liberation Sans" font-size="23" text-anchor="middle" fill="#1a1a1a" stroke="#1a1a1a" stroke-width="0.25">27</text>
<text x="399.4" y="829.6" font-family="Liberation Sans" font-size="23" text-anchor="middle" fill="#1a1a1a" stroke="#1a1a1a" stroke-width="0.25">37</text>
<text x="485.2" y="829.6" font-family="Liberation Sans" font-size="23" text-anchor="middle" fill="#1a1a1a" stroke="#1a1a1a" stroke-width="0.25">4.2</text>
<text x="571.2" y="829.6" font-family="Liberation Sans" font-size="23" text-anchor="middle" fill="#1a1a1a" stroke="#1a1a1a" stroke-width="0.25">14</text>
<text x="657.2" y="829.6" font-family="Liberation Sans" font-size="23" text-anchor="middle" fill="#1a1a1a" stroke="#1a1a1a" stroke-width="0.25">29</text>
<text x="743.3" y="829.6" font-family="Liberation Sans" font-size="23" text-anchor="middle" fill="#1a1a1a" stroke="#1a1a1a" stroke-width="0.25">22.5</text>
<text x="829.4" y="829.6" font-family="Liberation Sans" font-size="23" text-anchor="middle" fill="#1a1a1a" stroke="#1a1a1a" stroke-width="0.25">27.5</text>
<text x="915.0" y="829.6" font-family="Liberation Sans" font-size="23" text-anchor="middle" fill="#1a1a1a" stroke="#1a1a1a" stroke-width="0.25">29</text>
</svg>
</body></html>
